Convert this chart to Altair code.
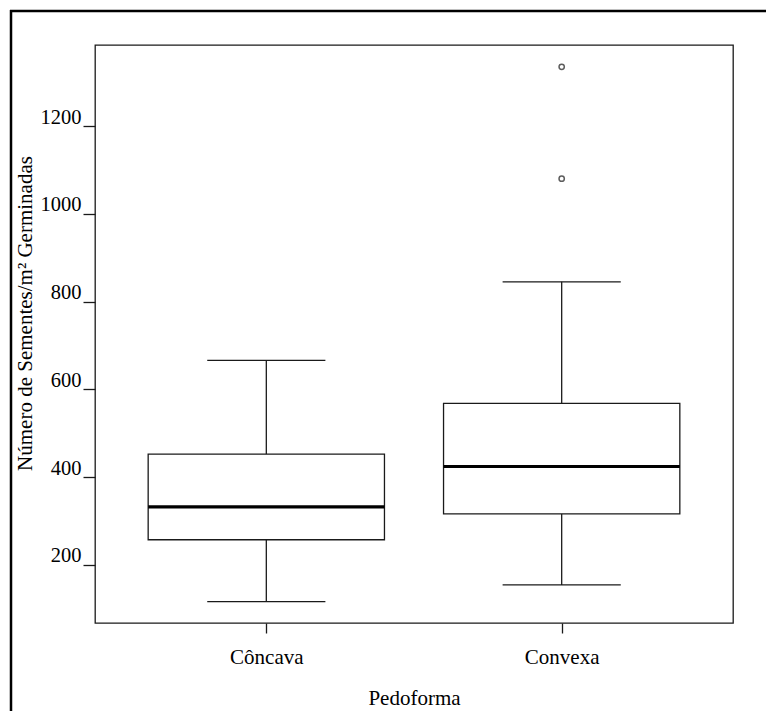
import altair as alt
import pandas as pd

# ---- data ----
categories = ["Côncava", "Convexa"]
positions = [1, 2]
whisker_low = [116, 154]
q1 = [257, 316]
median = [332, 424]
q3 = [452, 568]
whisker_high = [666, 845]
outlier_group = ["Convexa", "Convexa"]
outlier_values = [1080, 1335]

y_ticks = [200, 400, 600, 800, 1000, 1200]

pos_of = dict(zip(categories, positions))
box_df = pd.DataFrame({
    "group": categories, "pos": positions, "low": whisker_low,
    "q1": q1, "median": median, "q3": q3, "high": whisker_high,
})
out_df = pd.DataFrame({
    "group": outlier_group,
    "pos": [pos_of[g] for g in outlier_group],
    "value": outlier_values,
})

FONT = "'Liberation Serif', 'Times New Roman', serif"
LINE = "#1a1a1a"

label_expr = " : ".join(
    f"datum.value == {p} ? '{c}'" for p, c in zip(positions, categories)
) + " : ''"

xscale = alt.Scale(domain=[0.42, 2.58], nice=False, zero=False)
yscale = alt.Scale(domain=[67.2, 1384.8], nice=False, zero=False)

xaxis = alt.Axis(
    values=positions, labelExpr=label_expr, title="Pedoforma",
    grid=False, domain=False, tickSize=10, tickColor=LINE, tickWidth=1.3,
    labelFont=FONT, labelFontSize=21, labelColor="black", labelPadding=13,
    titleFont=FONT, titleFontSize=21, titleFontWeight="normal",
    titleColor="black", titlePadding=20,
)
yaxis = alt.Axis(
    values=y_ticks, format="d", title="Número de Sementes/m² Germinadas",
    grid=False, domain=False, tickSize=12, tickColor=LINE, tickWidth=1.3,
    labelFont=FONT, labelFontSize=20.5, labelColor="black", labelPadding=2,
    labelBaseline="alphabetic", labelOffset=-3,
    titleFont=FONT, titleFontSize=21, titleFontWeight="normal",
    titleColor="black", titlePadding=5, titleY=268,
)

base = alt.Chart(box_df).transform_calculate(
    left="datum.pos - 0.4", right="datum.pos + 0.4",
    cap_l="datum.pos - 0.2", cap_r="datum.pos + 0.2",
)

x_main = alt.X("pos:Q", scale=xscale, axis=xaxis)

whisk_lo = base.mark_rule(color=LINE, strokeWidth=1.3).encode(
    x=x_main, y=alt.Y("low:Q", scale=yscale, axis=yaxis), y2="q1:Q")
whisk_hi = base.mark_rule(color=LINE, strokeWidth=1.3).encode(
    x="pos:Q", y="q3:Q", y2="high:Q")
cap_lo = base.mark_rule(color=LINE, strokeWidth=1.3).encode(
    x="cap_l:Q", x2="cap_r:Q", y="low:Q")
cap_hi = base.mark_rule(color=LINE, strokeWidth=1.3).encode(
    x="cap_l:Q", x2="cap_r:Q", y="high:Q")
box = base.mark_rect(fill="white", stroke=LINE, strokeWidth=1.3).encode(
    x="left:Q", x2="right:Q", y="q1:Q", y2="q3:Q")
med = base.mark_rule(color="black", strokeWidth=3.2).encode(
    x="left:Q", x2="right:Q", y="median:Q")
outs = alt.Chart(out_df).mark_point(
    shape="circle", filled=False, color=LINE, size=28, strokeWidth=1.5
).encode(x="pos:Q", y="value:Q")

frame_data = alt.Data(values=[{"k": 1}])
frame_left = alt.Chart(frame_data).mark_rule(color="black", strokeWidth=2.5).encode(
    x=alt.value(-84), y=alt.value(-35), y2=alt.value(720))
frame_top = alt.Chart(frame_data).mark_rule(color="black", strokeWidth=2.5).encode(
    x=alt.value(-85), x2=alt.value(720), y=alt.value(-34))

chart = alt.layer(
    whisk_lo, whisk_hi, cap_lo, cap_hi, box, med, outs, frame_left, frame_top
).properties(
    width=638, height=578,
    autosize=alt.AutoSizeParams(type="none"),
    padding={"left": 95, "top": 45, "right": 33, "bottom": 88},
    background="white",
).configure_view(stroke=LINE, strokeWidth=1.3)

chart.save("out.html", embed_options={"renderer": "svg", "actions": False})
